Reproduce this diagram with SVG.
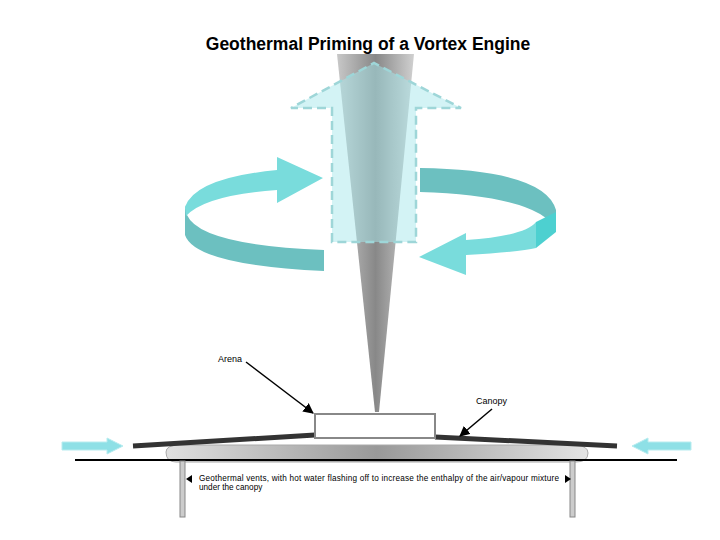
<svg xmlns="http://www.w3.org/2000/svg" width="720" height="540" viewBox="0 0 720 540">
<defs>
<linearGradient id="cone" x1="0" x2="1" y1="0" y2="0"><stop offset="0" stop-color="#c8c8c8"/><stop offset="0.5" stop-color="#888"/><stop offset="1" stop-color="#d0d0d0"/></linearGradient>
<linearGradient id="slab" x1="0" x2="1" y1="0" y2="0"><stop offset="0" stop-color="#e0e0e0"/><stop offset="0.5" stop-color="#999"/><stop offset="1" stop-color="#e4e4e4"/></linearGradient>
<marker id="ah" viewBox="0 0 10 10" refX="9" refY="5" markerWidth="7" markerHeight="7" orient="auto"><path d="M0,0L10,5L0,10z" fill="#000"/></marker>
</defs>
<style>
text{font-family:"Liberation Sans",Arial,sans-serif;fill:#000}
.lbl{font-size:9px}
.small{font-size:8.2px}
.cyan{fill:#8ee0e6;stroke:#b8ecef;stroke-width:1}
</style>
<rect width="720" height="540" fill="#fff"/>
<text x="368" y="50" text-anchor="middle" font-size="17.5" font-weight="bold">Geothermal Priming of a Vortex Engine</text>
<g id="swirl-left">
<path d="M185,205 L185,235 Q195,265 324,271 L324,250 Q200,245 187,215 Z" fill="#6cc0c0"/>
<path d="M185,207 Q195,178 277,170 L277,157 L323,178 L277,203 L277,190 Q205,195 186,216 Z" fill="#79dcdc"/>
</g>
<g id="swirl-right">
<path d="M420,168 Q545,170 556,210 L556,230 Q540,196 420,192 Z" fill="#6cc0c0"/>
<path d="M536,222 L556,212 L556,232 L536,248 Z" fill="#4dd0d0"/>
<path d="M536,222 L536,248 Q520,252 466,255 L466,275 L419,257 L466,233 L466,240 Q525,236 536,222 Z" fill="#79dcdc"/>
</g>
<g id="cone-node"><path d="M337,54 L414,54 L379,412 L375,412 Z" fill="url(#cone)"/></g>
<g id="up-arrow"><path d="M332,242 L332,108 L291,108 L374,63 L461,108 L416,108 L416,242 Z" fill="#a8e8ec" fill-opacity="0.5" stroke="#9ed6d8" stroke-width="2.5" stroke-dasharray="9,5"/></g>
<g id="canopy">
<path d="M166,452 Q166,445 180,445 L576,445 Q588,446 588,453 Q588,462 576,462 L176,462 Q166,462 166,452 Z" fill="url(#slab)" stroke="#aaa"/>
<path d="M133,446 L315,435 M435,437 L617,446" stroke="#333" stroke-width="5" fill="none"/>
<line x1="75" y1="460" x2="677" y2="460" stroke="#000" stroke-width="2"/>
<rect x="180" y="461" width="5" height="56" fill="#ccc" stroke="#888"/>
<rect x="570" y="461" width="5" height="56" fill="#ccc" stroke="#888"/>
</g>
<g id="arena"><rect x="315" y="414" width="120" height="24" fill="#fff" stroke="#888" stroke-width="2"/></g>
<g id="side-arrows">
<path d="M62,442 L107,442 L107,438 L123,446 L107,454 L107,450 L62,450 Z" class="cyan"/>
<path d="M691,442 L648,442 L648,438 L632,446 L648,454 L648,450 L691,450 Z" class="cyan"/>
</g>
<g id="connectors" stroke="#000" stroke-width="1.5" fill="none">
<line x1="246" y1="362" x2="313" y2="413" marker-end="url(#ah)"/>
<line x1="492" y1="409" x2="460" y2="436" marker-end="url(#ah)"/>
</g>
<text x="218" y="362" class="lbl">Arena</text>
<text x="476" y="404" class="lbl">Canopy</text>
<path d="M186,479 L192,475 L192,483 Z M571,479 L565,475 L565,483 Z" fill="#000"/>
<text x="199" y="481" class="small" textLength="360">Geothermal vents, with hot water flashing off to increase the enthalpy of the air/vapour mixture</text>
<text x="199" y="490" class="small">under the canopy</text>
</svg>
